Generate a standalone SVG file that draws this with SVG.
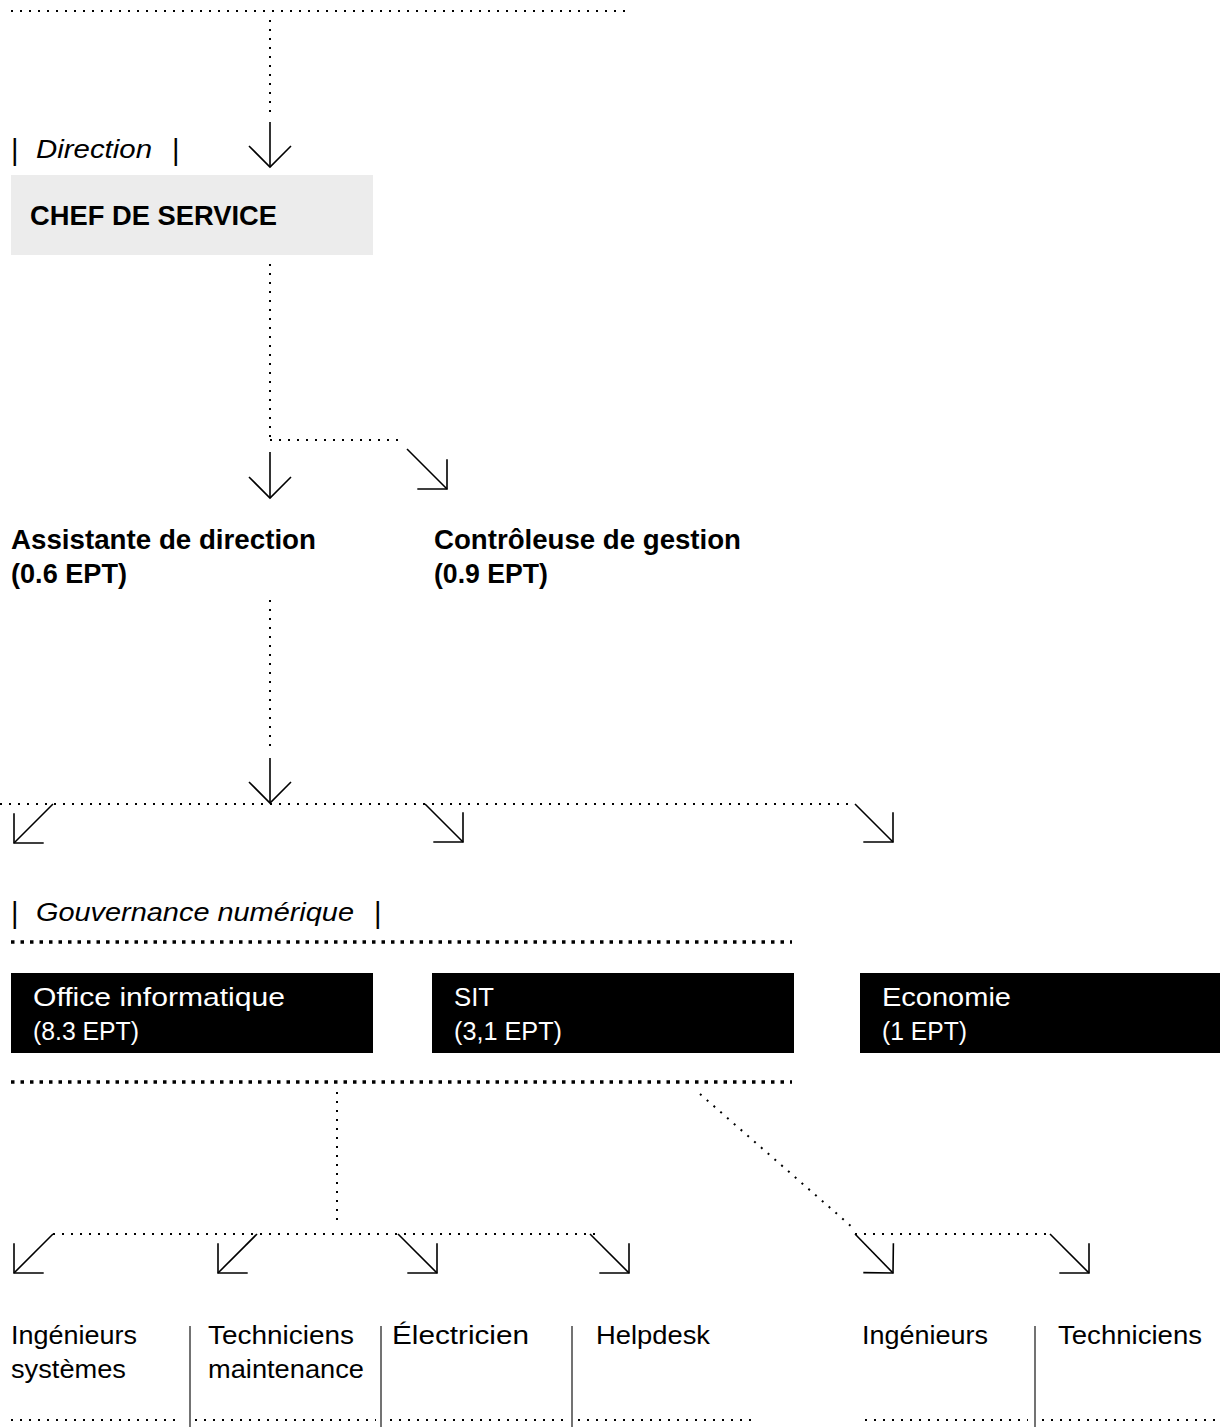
<svg xmlns="http://www.w3.org/2000/svg" width="1220" height="1427" viewBox="0 0 1220 1427">
<style>
text{font-family:"Liberation Sans",Arial,Helvetica,sans-serif;font-size:26px;fill:#000}
.b{font-weight:bold;font-size:27px}
.i{font-style:italic}
.w{fill:#fff}
.p{font-size:29px;font-weight:300}
.dot{fill:none;stroke:#000;stroke-width:2;stroke-dasharray:2 7}
.dotb{fill:none;stroke:#000;stroke-width:3.5;stroke-dasharray:3.5 6}
.arr{fill:none;stroke:#000;stroke-width:1.6;marker-end:url(#ah)}
.sep{stroke:#444;stroke-width:1.5}
</style>
<defs>
<marker id="ah" markerUnits="userSpaceOnUse" orient="auto" overflow="visible" refX="0" refY="0" markerWidth="1" markerHeight="1">
<path d="M-21,-21 L0,0 L-21,21" fill="none" stroke="#000" stroke-width="1.6"/>
</marker>
</defs>
<rect width="1220" height="1427" fill="#fff"/>

<g id="connectors">
<line class="dot" x1="11" y1="11" x2="625" y2="11"/>
<line class="dot" x1="270" y1="20" x2="270" y2="115"/>
<line class="arr" x1="270" y1="122" x2="270" y2="167"/>
<line class="dot" x1="270" y1="264" x2="270" y2="440"/>
<line class="dot" x1="270" y1="440" x2="402" y2="440"/>
<line class="arr" x1="270" y1="452" x2="270" y2="498"/>
<line class="arr" x1="407" y1="449" x2="447" y2="489"/>
<line class="dot" x1="270" y1="600" x2="270" y2="752"/>
<line class="arr" x1="270" y1="758" x2="270" y2="803"/>
<line class="dot" x1="0" y1="804" x2="855" y2="804"/>
<line class="arr" x1="53" y1="804" x2="14" y2="843"/>
<line class="arr" x1="425" y1="804" x2="463" y2="842"/>
<line class="arr" x1="855" y1="804" x2="893" y2="842"/>
<line class="dotb" x1="11" y1="942" x2="792" y2="942"/>
<line class="dotb" x1="11" y1="1082" x2="792" y2="1082"/>
<line class="dot" x1="337" y1="1092" x2="337" y2="1226"/>
<line class="dot" x1="53" y1="1234" x2="598" y2="1234"/>
<line class="dot" x1="700" y1="1094" x2="852" y2="1227"/>
<line class="dot" x1="855" y1="1234" x2="1050" y2="1234"/>
<line class="arr" x1="53" y1="1234" x2="14" y2="1273"/>
<line class="arr" x1="257" y1="1234" x2="218" y2="1273"/>
<line class="arr" x1="398" y1="1234" x2="437" y2="1273"/>
<line class="arr" x1="590" y1="1234" x2="629" y2="1273"/>
<line class="arr" x1="855" y1="1234" x2="893" y2="1273"/>
<line class="arr" x1="1050" y1="1234" x2="1089" y2="1273"/>
</g>

<g id="label-direction">
<text class="p" x="11" y="160">|</text>
<text class="i" x="36" y="158" textLength="116" lengthAdjust="spacingAndGlyphs">Direction</text>
<text class="p" x="172" y="160">|</text>
</g>

<g id="chef-de-service">
<rect x="11" y="175" width="362" height="80" fill="#ececec"/>
<text class="b" x="30" y="225" textLength="247" lengthAdjust="spacingAndGlyphs">CHEF DE SERVICE</text>
</g>

<g id="assistante">
<text class="b" x="11" y="549" textLength="305" lengthAdjust="spacingAndGlyphs">Assistante de direction</text>
<text class="b" x="11" y="583" textLength="116" lengthAdjust="spacingAndGlyphs">(0.6 EPT)</text>
</g>

<g id="controleuse">
<text class="b" x="434" y="549" textLength="307" lengthAdjust="spacingAndGlyphs">Contrôleuse de gestion</text>
<text class="b" x="434" y="583" textLength="114" lengthAdjust="spacingAndGlyphs">(0.9 EPT)</text>
</g>

<g id="label-gouvernance">
<text class="p" x="11" y="923">|</text>
<text class="i" x="36" y="921" textLength="318" lengthAdjust="spacingAndGlyphs">Gouvernance numérique</text>
<text class="p" x="374" y="923">|</text>
</g>

<g id="office-informatique">
<rect x="11" y="973" width="362" height="80" fill="#000"/>
<text class="w" x="33" y="1006" textLength="252" lengthAdjust="spacingAndGlyphs">Office informatique</text>
<text class="w" x="33" y="1040" textLength="106" lengthAdjust="spacingAndGlyphs">(8.3 EPT)</text>
</g>

<g id="sit">
<rect x="432" y="973" width="362" height="80" fill="#000"/>
<text class="w" x="454" y="1006" textLength="40" lengthAdjust="spacingAndGlyphs">SIT</text>
<text class="w" x="454" y="1040" textLength="108" lengthAdjust="spacingAndGlyphs">(3,1 EPT)</text>
</g>

<g id="economie">
<rect x="860" y="973" width="360" height="80" fill="#000"/>
<text class="w" x="882" y="1006" textLength="129" lengthAdjust="spacingAndGlyphs">Economie</text>
<text class="w" x="882" y="1040" textLength="85" lengthAdjust="spacingAndGlyphs">(1 EPT)</text>
</g>

<g id="ingenieurs-systemes">
<text x="11" y="1344" textLength="126" lengthAdjust="spacingAndGlyphs">Ingénieurs</text>
<text x="11" y="1378" textLength="115" lengthAdjust="spacingAndGlyphs">systèmes</text>
<line class="dot" x1="11" y1="1420" x2="182" y2="1420"/>
</g>
<line class="sep" x1="190" y1="1326" x2="190" y2="1427"/>

<g id="techniciens-maintenance">
<text x="208" y="1344" textLength="146" lengthAdjust="spacingAndGlyphs">Techniciens</text>
<text x="208" y="1378" textLength="156" lengthAdjust="spacingAndGlyphs">maintenance</text>
<line class="dot" x1="195" y1="1420" x2="376" y2="1420"/>
</g>
<line class="sep" x1="381" y1="1326" x2="381" y2="1427"/>

<g id="electricien">
<text x="392" y="1344" textLength="137" lengthAdjust="spacingAndGlyphs">Électricien</text>
<line class="dot" x1="390" y1="1420" x2="566" y2="1420"/>
</g>
<line class="sep" x1="572" y1="1326" x2="572" y2="1427"/>

<g id="helpdesk">
<text x="596" y="1344" textLength="114" lengthAdjust="spacingAndGlyphs">Helpdesk</text>
<line class="dot" x1="578" y1="1420" x2="752" y2="1420"/>
</g>

<g id="ingenieurs-sit">
<text x="862" y="1344" textLength="126" lengthAdjust="spacingAndGlyphs">Ingénieurs</text>
<line class="dot" x1="865" y1="1420" x2="1028" y2="1420"/>
</g>
<line class="sep" x1="1035" y1="1326" x2="1035" y2="1427"/>

<g id="techniciens-sit">
<text x="1058" y="1344" textLength="144" lengthAdjust="spacingAndGlyphs">Techniciens</text>
<line class="dot" x1="1042" y1="1420" x2="1215" y2="1420"/>
</g>
</svg>
